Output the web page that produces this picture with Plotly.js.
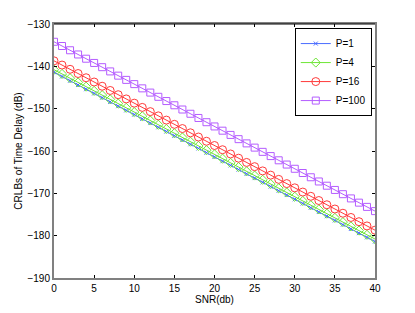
<!DOCTYPE html>
<html>
<head>
<meta charset="utf-8">
<script src="https://cdn.plot.ly/plotly-3.0.1.min.js"></script>
<style>html,body{margin:0;padding:0;background:#fff;}#chart{width:415px;height:313px;}</style>
</head>
<body>
<div id="chart"></div>
<script>
const snr = [0,1,2,3,4,5,6,7,8,9,10,11,12,13,14,15,16,17,18,19,20,21,22,23,24,25,26,27,28,29,30,31,32,33,34,35,36,37,38,39,40];
const p1 = [-141.4,-142.4,-143.4,-144.4,-145.4,-146.4,-147.4,-148.4,-149.4,-150.4,-151.4,-152.4,-153.4,-154.4,-155.4,-156.4,-157.4,-158.4,-159.4,-160.4,-161.4,-162.4,-163.4,-164.4,-165.4,-166.4,-167.4,-168.4,-169.4,-170.4,-171.4,-172.4,-173.4,-174.4,-175.4,-176.4,-177.4,-178.4,-179.4,-180.4,-181.4];
const p4 = [-140.8,-141.8,-142.8,-143.8,-144.8,-145.8,-146.8,-147.8,-148.8,-149.8,-150.8,-151.8,-152.8,-153.8,-154.8,-155.8,-156.8,-157.8,-158.8,-159.8,-160.8,-161.8,-162.8,-163.8,-164.8,-165.8,-166.8,-167.8,-168.8,-169.8,-170.8,-171.8,-172.8,-173.8,-174.8,-175.8,-176.8,-177.8,-178.8,-179.8,-180.8];
const p16 = [-138.7,-139.7,-140.7,-141.7,-142.7,-143.7,-144.7,-145.7,-146.7,-147.7,-148.7,-149.7,-150.7,-151.7,-152.7,-153.7,-154.7,-155.7,-156.7,-157.7,-158.7,-159.7,-160.7,-161.7,-162.7,-163.7,-164.7,-165.7,-166.7,-167.7,-168.7,-169.7,-170.7,-171.7,-172.7,-173.7,-174.7,-175.7,-176.7,-177.7,-178.7];
const p100 = [-134.2,-135.2,-136.2,-137.2,-138.2,-139.2,-140.2,-141.2,-142.2,-143.2,-144.2,-145.2,-146.2,-147.2,-148.2,-149.2,-150.2,-151.2,-152.2,-153.2,-154.2,-155.2,-156.2,-157.2,-158.2,-159.2,-160.2,-161.2,-162.2,-163.2,-164.2,-165.2,-166.2,-167.2,-168.2,-169.2,-170.2,-171.2,-172.2,-173.2,-174.2];
const seriesNames = ['P=1','P=4','P=16','P=100'];
const seriesData = [p1, p4, p16, p100];
const colors = ['#4a6cff','#6ee636','#ff3b3b','#b45cff'];
const symbols = ['x-thin-open','diamond-open','circle-open','square-open'];
const sizes = [4,7,8,7];
const xTicks = [0,5,10,15,20,25,30,35,40];
const yTicks = [-190,-180,-170,-160,-150,-140,-130];

const traces = seriesData.map((y,i)=>({
  x: snr, y: y, name: seriesNames[i], type:'scatter', mode:'lines+markers',
  line:{color:colors[i], width:1},
  marker:{symbol:symbols[i], size:sizes[i], color:colors[i], line:{color:colors[i], width:1}}
}));

const font = {family:'"Liberation Sans", Arial, sans-serif', size:10, color:'#000'};
const layout = {
  width:415, height:313,
  margin:{l:54, r:40, t:24, b:35, pad:0},
  paper_bgcolor:'#fff', plot_bgcolor:'#fff',
  font: font,
  showlegend:true,
  legend:{x:0.99, y:0.984, xanchor:'right', yanchor:'top', bgcolor:'#fff', bordercolor:'#000', borderwidth:1, font:font, tracegroupgap:0, itemwidth:30},
  xaxis:{range:[0,40], tickvals:xTicks, ticks:'inside', ticklen:3, tickcolor:'#000', showgrid:false, zeroline:false,
    showline:true, linecolor:'#808080', linewidth:2, mirror:'ticks',
    title:{text:'SNR(db)', font:font, standoff:3}, tickfont:font},
  yaxis:{range:[-190,-130], tickvals:yTicks, ticks:'inside', ticklen:3, tickcolor:'#000', showgrid:false, zeroline:false,
    showline:true, linecolor:'#808080', linewidth:2, mirror:'ticks',
    title:{text:'CRLBs of Time Delay (dB)', font:font, standoff:3}, tickfont:font},
  shapes:[{type:'line', xref:'paper', yref:'paper', x0:0, x1:1, y0:1, y1:1, line:{color:'#000', width:1}}]
};
Plotly.newPlot('chart', traces, layout, {staticPlot:true, displayModeBar:false});
</script>
</body>
</html>
